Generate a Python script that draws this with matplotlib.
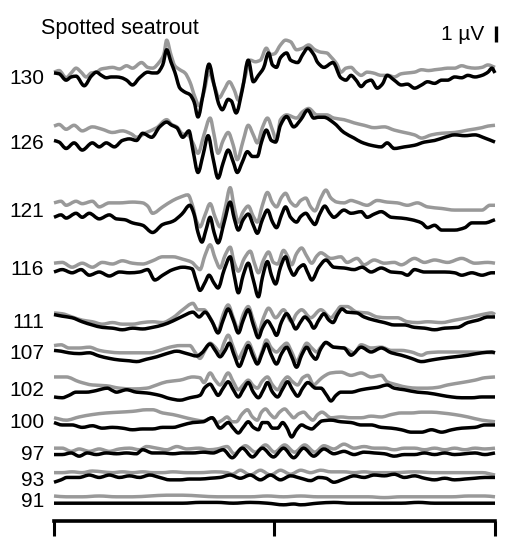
import matplotlib
matplotlib.use('Agg')
import matplotlib.pyplot as plt
from matplotlib.path import Path
from matplotlib.patches import PathPatch

plt.rcParams['font.family'] = ['Liberation Sans', 'DejaVu Sans']

# ---------------- data: (time ms, amplitude µV) ----------------
levels = ['130', '126', '121', '116', '111', '107', '102', '100', '97', '93', '91']

gray_130 = [(0,0.3),(0.23,0.4),(0.55,-0.05),(0.78,0.25),(1.0,0.55),(1.23,0.3),(1.46,0),(1.69,0.25),(1.92,0.3),(2.15,0.5),(2.37,0.55),(2.65,0.6),(2.97,0.5),(3.29,0.7),(3.56,0.55),(3.97,0.9),(4.25,0.6),(4.47,0.55),(4.79,0.95),(4.98,1.4),(5.11,2.3),(5.3,1.4),(5.48,0.7),(5.71,0.45),(5.94,0.25),(6.16,-0.3),(6.39,-1.25),(6.58,-1.8),(6.8,-0.95),(7.03,0.3),(7.26,-0.5),(7.49,-1.3),(7.72,-0.8),(7.95,-0.3),(8.17,-0.8),(8.36,-1.45),(8.63,-0.2),(8.9,1.05),(9.13,0.95),(9.36,1.05),(9.63,1.8),(9.82,1.4),(10.0,1.45),(10.27,2.0),(10.5,2.3),(10.73,2.2),(11.0,1.7),(11.28,1.8),(11.55,2.0),(11.83,1.7),(12.1,1.55),(12.37,1.5),(12.56,1.25),(12.83,0.8),(13.01,0.3),(13.24,0.55),(13.47,0.6),(13.7,0.3),(13.93,0.1),(14.2,0.3),(14.47,0.25),(14.84,0.1),(15.16,0.1),(15.43,0),(15.75,0.2),(16.03,0.25),(16.35,0.3),(16.67,0.45),(16.99,0.4),(17.26,0.45),(17.58,0.5),(17.85,0.55),(18.17,0.55),(18.49,0.7),(18.77,0.6),(19.09,0.55),(19.41,0.6),(19.68,0.75),(20,0.6)]
black_130 = [(0,0.25),(0.23,0.2),(0.55,-0.2),(0.78,0),(1.0,0.05),(1.37,-0.55),(1.69,0.05),(1.92,0.3),(2.15,0.1),(2.37,-0.05),(2.6,0),(2.83,0),(3.06,-0.05),(3.29,-0.2),(3.56,-0.5),(3.88,-0.05),(4.25,0.3),(4.47,0.25),(4.66,0.25),(4.93,0.75),(5.11,1.7),(5.3,0.95),(5.48,0.3),(5.71,-0.7),(5.94,-0.95),(6.16,-1.1),(6.35,-1.55),(6.53,-2.5),(6.76,-1.1),(7.03,0.8),(7.26,-0.5),(7.49,-1.75),(7.63,-2.05),(7.9,-1.4),(8.04,-1.5),(8.26,-2.25),(8.54,-0.8),(8.81,1.05),(9.04,-0.3),(9.27,0.1),(9.5,0.55),(9.73,1.5),(9.91,0.75),(10.09,0.6),(10.27,1.2),(10.55,1.5),(10.73,1.05),(11.05,0.9),(11.28,1.4),(11.51,1.8),(11.78,1.4),(11.96,0.9),(12.24,0.6),(12.65,0.9),(13.01,-0.05),(13.24,-0.2),(13.47,0.1),(13.7,-0.2),(13.93,-0.6),(14.16,-0.3),(14.38,-0.2),(14.66,-0.7),(14.89,-0.45),(15.11,0.1),(15.43,-0.2),(15.75,-0.5),(16.03,-0.45),(16.35,-0.7),(16.67,-0.5),(16.94,-0.3),(17.26,-0.4),(17.58,-0.2),(17.85,-0.2),(18.17,0),(18.49,-0.05),(18.77,0.1),(19.09,0),(19.41,0.1),(19.68,0.3),(19.86,0.55),(20,0.25)]

gray_126 = [(0,1.0),(0.23,1.1),(0.55,0.8),(0.91,1.05),(1.28,0.7),(1.74,0.95),(2.19,0.8),(2.65,0.6),(3.1,0.7),(3.52,0.5),(3.74,0.3),(4.2,0.6),(4.66,0.9),(5.11,1.4),(5.34,1.1),(5.57,0.95),(5.84,0.5),(6.07,0.45),(6.3,-0.05),(6.53,-0.7),(6.8,0.45),(7.08,1.5),(7.26,0.45),(7.44,-0.7),(7.67,0.1),(7.9,0.6),(8.13,-0.2),(8.31,-1.1),(8.58,0.1),(8.81,1.05),(9.04,0.45),(9.22,-0.05),(9.45,0.9),(9.68,1.5),(9.91,0.75),(10.09,0.1),(10.27,1.4),(10.55,1.7),(11.0,1.5),(11.28,1.9),(11.55,2.1),(11.92,1.7),(12.37,1.7),(12.69,1.5),(13.15,1.4),(13.61,1.2),(14.06,1.05),(14.52,0.9),(14.98,0.95),(15.43,0.75),(15.89,0.6),(16.35,0.45),(16.67,0.25),(17.12,0.45),(17.58,0.55),(18.17,0.6),(18.77,0.75),(19.41,0.9),(19.68,1.0),(20,1.05)]
black_126 = [(0,0.1),(0.23,0),(0.55,-0.4),(0.91,-0.05),(1.28,-0.5),(1.74,-0.05),(2.05,-0.3),(2.37,-0.05),(2.74,-0.3),(3.1,0.1),(3.42,0.2),(3.74,0.1),(4.02,0.55),(4.43,0.3),(4.79,0.95),(5.11,1.25),(5.34,1.05),(5.57,0.9),(5.84,0.3),(6.12,0.7),(6.3,-0.5),(6.53,-1.9),(6.76,-0.8),(6.99,0.4),(7.21,-1.0),(7.44,-2.25),(7.67,-1.3),(7.9,-0.5),(8.13,-1.25),(8.31,-1.9),(8.54,-1.25),(8.77,-0.6),(9.0,-0.9),(9.22,-0.9),(9.41,0),(9.63,0.75),(9.86,0.1),(10.05,0),(10.27,1.05),(10.55,1.6),(10.87,0.95),(11.19,1.4),(11.51,2.0),(11.78,1.5),(12.0,1.55),(12.24,1.55),(12.69,1.2),(13.15,0.6),(13.61,0.25),(13.93,0),(14.38,-0.2),(14.84,-0.3),(15.11,-0.05),(15.43,-0.4),(15.89,-0.3),(16.35,-0.2),(16.8,0),(17.26,0.1),(17.72,0.3),(18.17,0.45),(18.63,0.4),(19.09,0.45),(19.54,0.25),(20,0)]

gray_121 = [(0,0.45),(0.32,0.55),(0.55,0.3),(1.0,0.55),(1.28,0.4),(1.74,0.55),(2.05,0.2),(2.51,0.45),(2.97,0.45),(3.56,0.5),(4.02,0.45),(4.25,0.25),(4.47,-0.2),(4.93,0.2),(5.39,0.6),(5.71,0.8),(6.07,0.95),(6.3,0.2),(6.44,-0.6),(6.62,-1.05),(6.85,-0.3),(7.08,0.4),(7.31,-0.45),(7.53,-1.05),(7.76,0.1),(7.99,1.4),(8.17,0.2),(8.36,-0.75),(8.58,-0.1),(8.81,0.25),(9.04,-0.4),(9.22,-0.75),(9.45,0.3),(9.68,1.1),(9.91,0.45),(10.09,0.2),(10.32,0.8),(10.5,1.05),(10.73,0.5),(10.96,0.25),(11.19,0.6),(11.42,0.75),(11.64,0.2),(11.83,-0.05),(12.1,0.75),(12.33,1.25),(12.56,0.75),(12.83,0.5),(13.15,0.45),(13.47,0.6),(13.74,0.5),(14.2,0.3),(14.66,0.6),(15.11,0.5),(15.57,0.45),(16.03,0.3),(16.48,0.45),(16.94,0.2),(17.58,0.1),(18.17,0),(18.77,0),(19.41,0),(19.77,0.3),(20,0.3)]
black_121 = [(0,-0.45),(0.32,-0.3),(0.55,-0.5),(1.0,-0.2),(1.28,-0.45),(1.6,-0.2),(2.05,-0.55),(2.51,-0.3),(2.83,-0.55),(3.2,-0.6),(3.56,-0.8),(4.02,-0.95),(4.47,-1.4),(4.93,-0.9),(5.39,-0.7),(5.8,-0.25),(6.16,0.3),(6.35,-0.25),(6.53,-1.4),(6.71,-2.0),(6.89,-1.25),(7.08,-0.45),(7.26,-1.4),(7.44,-2.05),(7.72,-0.75),(7.99,0.5),(8.17,-0.5),(8.36,-1.25),(8.58,-0.6),(8.81,-0.25),(9.04,-0.95),(9.22,-1.45),(9.45,-0.6),(9.68,0),(9.91,-0.75),(10.09,-1.1),(10.32,-0.3),(10.5,0.2),(10.73,-0.45),(11.0,-0.75),(11.19,-0.4),(11.42,-0.2),(11.64,-0.6),(11.83,-0.9),(12.05,-0.25),(12.28,0.25),(12.51,-0.2),(12.69,-0.45),(13.15,0),(13.47,-0.2),(13.93,-0.1),(14.2,-0.45),(14.52,-0.25),(14.84,-0.1),(15.3,-0.45),(15.75,-0.5),(16.21,-0.6),(16.67,-0.8),(16.94,-1.1),(17.26,-0.95),(17.58,-1.25),(18.17,-1.25),(18.63,-1.1),(18.95,-0.8),(19.54,-0.8),(20,-0.6)]

gray_116 = [(0,0.3),(0.37,0.35),(0.82,0.05),(1.28,0.3),(1.74,0.05),(2.19,0.35),(2.65,0.25),(3.1,0.45),(3.56,0.3),(4.02,0.25),(4.47,0.45),(4.93,0.7),(5.39,0.7),(5.84,0.55),(6.26,0.35),(6.44,0.1),(6.62,-0.1),(6.85,0.8),(7.08,1.45),(7.31,0.6),(7.53,0),(7.76,0.8),(7.99,1.3),(8.17,0.35),(8.36,-0.2),(8.63,0.6),(8.9,1.05),(9.09,0.3),(9.27,-0.3),(9.5,0.5),(9.73,1.0),(9.95,0.35),(10.14,0.25),(10.41,1.1),(10.59,0.75),(10.78,0.2),(11.0,0.9),(11.23,1.25),(11.46,0.75),(11.69,0.3),(11.92,0.75),(12.1,0.95),(12.56,0.6),(13.01,0.7),(13.29,0.35),(13.74,0.6),(14.06,0.2),(14.52,0.5),(14.98,0.3),(15.43,0.35),(15.75,0.2),(16.35,0.6),(16.8,0.35),(17.26,0.5),(17.85,0.35),(18.49,0.6),(19.09,0.3),(19.68,0.35),(20,0.3)]
black_116 = [(0,-0.25),(0.37,-0.1),(0.82,-0.3),(1.23,-0.1),(1.6,-0.45),(2.05,-0.25),(2.51,-0.5),(2.97,-0.25),(3.42,-0.3),(3.88,-0.25),(4.25,-0.1),(4.57,-0.75),(4.93,-0.45),(5.39,-0.1),(5.84,0.05),(6.26,-0.05),(6.44,-0.75),(6.62,-1.4),(6.85,-0.9),(7.03,-0.45),(7.26,-0.95),(7.44,-1.25),(7.72,-0.1),(7.99,0.7),(8.17,-0.45),(8.36,-1.55),(8.58,-0.45),(8.81,0.3),(9.04,-0.75),(9.27,-1.8),(9.45,-0.6),(9.68,0.4),(9.86,-0.45),(10.05,-1.0),(10.27,0.05),(10.5,0.7),(10.68,0),(10.87,-0.45),(11.1,0),(11.32,0.2),(11.51,-0.3),(11.69,-0.75),(12.01,0.05),(12.33,0.5),(12.69,0.05),(13.15,0),(13.61,-0.1),(13.97,0.05),(14.38,-0.25),(14.84,0),(15.3,-0.25),(15.75,-0.3),(16.03,-0.45),(16.35,-0.1),(16.8,-0.25),(17.26,-0.25),(17.72,-0.25),(18.17,-0.3),(18.49,-0.45),(18.95,-0.3),(19.41,-0.45),(19.86,-0.3),(20,-0.3)]

gray_111 = [(0,0.5),(0.37,0.45),(0.82,0.25),(1.28,0.05),(1.74,-0.05),(2.19,-0.2),(2.65,-0.1),(3.1,-0.2),(3.56,-0.2),(4.02,-0.1),(4.47,-0.05),(4.93,-0.1),(5.39,0.2),(5.84,0.7),(6.3,1.1),(6.53,0.7),(6.8,0.7),(7.08,0.2),(7.44,-0.6),(7.67,0.4),(7.9,1.0),(8.13,0.2),(8.36,-0.55),(8.58,0.4),(8.81,0.9),(9.04,0.05),(9.27,-0.7),(9.5,0.2),(9.73,0.8),(10.05,0.2),(10.41,0.7),(10.78,-0.05),(11.0,0.45),(11.23,0.7),(11.64,0.2),(12.1,0.7),(12.56,0.2),(12.79,0.55),(13.01,0.9),(13.29,0.9),(13.74,0.55),(14.2,0.5),(14.66,0.25),(15.11,0.2),(15.57,0.2),(16.03,-0.05),(16.48,-0.1),(16.94,-0.05),(17.58,-0.1),(18.17,0.05),(18.77,0.2),(19.41,0.4),(19.86,0.5),(20,0.4)]
black_111 = [(0,0.4),(0.37,0.3),(0.82,0.2),(1.28,-0.05),(1.74,-0.25),(2.19,-0.4),(2.65,-0.45),(3.1,-0.55),(3.56,-0.45),(4.02,-0.5),(4.47,-0.4),(4.93,-0.25),(5.39,0),(5.84,0.3),(6.3,0.55),(6.58,0.25),(6.85,0.55),(7.17,-0.05),(7.44,-0.75),(7.67,0.05),(7.9,0.75),(8.13,0.05),(8.36,-0.75),(8.58,0.05),(8.81,0.7),(9.04,-0.25),(9.27,-1.05),(9.45,-0.45),(9.68,0),(9.91,-0.45),(10.09,-0.9),(10.32,-0.05),(10.55,0.45),(10.78,-0.05),(10.96,-0.5),(11.19,-0.05),(11.37,0.25),(11.6,-0.05),(11.78,-0.45),(12.01,0.05),(12.24,0.45),(12.47,0.05),(12.65,-0.1),(12.88,0.45),(13.06,0.75),(13.29,0.55),(13.74,0.5),(14.06,0.25),(14.52,0.05),(14.98,-0.1),(15.43,-0.25),(15.89,-0.25),(16.35,-0.4),(16.8,-0.45),(17.26,-0.55),(17.72,-0.45),(18.31,-0.4),(18.77,-0.1),(19.22,0.05),(19.68,0.25),(20,0.25)]

gray_107 = [(0,0.4),(0.32,0.45),(0.68,0.25),(1.14,0.25),(1.6,0.3),(2.05,0.1),(2.51,0),(2.97,-0.05),(3.42,-0.05),(3.88,-0.05),(4.34,-0.05),(4.79,0.1),(5.25,0.3),(5.71,0.4),(6.16,0.4),(6.39,0),(6.62,-0.4),(6.85,0.1),(7.08,0.55),(7.31,0.3),(7.53,-0.05),(7.72,0.6),(7.9,1.05),(8.13,0.3),(8.36,-0.4),(8.58,0.1),(8.81,0.6),(9.04,-0.05),(9.22,-0.6),(9.45,0.1),(9.63,0.75),(9.86,0.25),(10.09,0),(10.32,0.3),(10.55,0.55),(10.78,0),(11.0,-0.6),(11.23,0),(11.46,0.55),(11.69,0.25),(11.92,0),(12.1,0.3),(12.33,0.55),(12.69,0.3),(13.15,0.25),(13.61,-0.05),(13.93,0.45),(14.38,0.25),(14.84,0.3),(15.3,0.1),(15.75,0.1),(16.21,0),(16.67,-0.2),(16.94,-0.05),(17.58,0),(18.77,0),(20,-0.05)]
black_107 = [(0,0.1),(0.32,0.05),(0.68,-0.05),(1.14,-0.1),(1.6,-0.05),(2.05,-0.25),(2.51,-0.4),(2.97,-0.5),(3.42,-0.55),(3.74,-0.6),(4.2,-0.45),(4.66,-0.3),(5.11,-0.1),(5.57,0.05),(6.03,-0.1),(6.48,-0.25),(6.71,-0.05),(7.08,0.5),(7.31,0.1),(7.53,-0.3),(7.76,0.1),(7.95,0.55),(8.17,-0.2),(8.4,-0.9),(8.63,-0.2),(8.81,0.4),(9.04,-0.3),(9.22,-0.75),(9.45,-0.05),(9.63,0.5),(9.86,-0.2),(10.09,-0.75),(10.32,-0.1),(10.55,0.3),(10.78,-0.3),(11.0,-0.95),(11.23,-0.2),(11.46,0.3),(11.69,-0.2),(11.87,-0.45),(12.1,0.2),(12.33,0.6),(12.69,0.3),(13.15,0.25),(13.47,-0.2),(13.93,0.3),(14.38,0),(14.84,0.25),(15.3,-0.05),(15.75,-0.2),(16.21,-0.4),(16.67,-0.6),(17.12,-0.5),(17.58,-0.4),(18.17,-0.3),(18.77,-0.2),(19.41,-0.05),(19.86,0),(20,-0.05)]

gray_102 = [(0,0.75),(0.55,0.75),(1.14,0.45),(1.74,0.25),(2.37,0.2),(2.97,0.05),(3.56,0),(4.2,0.05),(4.66,0.25),(5.11,0.45),(5.71,0.55),(6.3,0.75),(6.62,0.7),(6.8,0.4),(7.08,1.0),(7.31,0.55),(7.53,0.25),(7.9,1.0),(8.13,0.45),(8.36,-0.05),(8.58,0.25),(8.81,0.55),(9.04,0.2),(9.22,0.05),(9.45,0.5),(9.68,0.75),(9.91,0.25),(10.14,-0.05),(10.37,0.45),(10.59,0.75),(10.82,0.45),(11.05,0.25),(11.28,0.7),(11.51,0.85),(11.78,0.25),(11.96,0.45),(12.15,0.7),(12.56,1.0),(13.01,1.05),(13.47,0.85),(13.93,1.0),(14.38,0.75),(14.84,0.85),(15.11,0.45),(15.57,0.25),(16.03,0.1),(16.48,0.05),(16.94,0.05),(17.4,0.1),(17.85,0.25),(18.49,0.4),(19.09,0.55),(19.54,0.7),(20,0.75)]
black_102 = [(0,-0.5),(0.37,-0.55),(0.68,-0.4),(1.0,-0.2),(1.46,-0.2),(1.92,-0.1),(2.19,0),(2.42,0.05),(2.65,-0.1),(2.83,-0.2),(3.29,-0.05),(3.74,-0.2),(4.2,-0.25),(4.79,-0.4),(5.25,-0.6),(5.71,-0.7),(6.16,-0.55),(6.62,-0.4),(6.85,0.1),(7.08,0.3),(7.26,-0.05),(7.44,-0.4),(7.67,0.05),(7.9,0.45),(8.13,-0.05),(8.36,-0.5),(8.58,-0.05),(8.81,0.4),(9.04,-0.2),(9.27,-0.55),(9.5,-0.05),(9.68,0.4),(9.91,-0.2),(10.14,-0.5),(10.37,0),(10.59,0.45),(10.82,-0.05),(11.05,-0.45),(11.28,0.05),(11.51,0.4),(11.87,0.05),(12.1,0.05),(12.37,-0.4),(12.56,-0.75),(12.79,-0.4),(13.01,-0.2),(13.47,-0.2),(13.93,-0.05),(14.38,0.05),(14.66,0.1),(15.11,0.25),(15.43,0.05),(15.89,-0.05),(16.48,-0.2),(16.94,-0.25),(17.58,-0.4),(18.04,-0.5),(18.49,-0.55),(18.95,-0.55),(19.41,-0.5),(20,-0.5)]

gray_100 = [(0,0.2),(0.55,0.05),(1.14,0.25),(1.74,0.4),(2.37,0.5),(2.97,0.55),(3.56,0.6),(4.2,0.7),(4.47,0.7),(4.93,0.5),(5.39,0.4),(5.84,0.25),(6.3,0.1),(6.76,0),(7.17,0.2),(7.4,-0.1),(7.63,0.05),(7.85,0.25),(8.08,-0.05),(8.26,-0.05),(8.54,0.45),(8.77,0.7),(9.0,0.25),(9.22,0.05),(9.41,0.55),(9.59,0.75),(9.82,0.4),(10.0,0.2),(10.23,0.55),(10.46,0.75),(10.68,0.45),(10.87,0.2),(11.1,0.45),(11.32,0.55),(11.55,0.25),(11.74,0.05),(11.96,0.4),(12.15,0.55),(12.56,0.2),(13.01,0.25),(13.47,0.2),(13.93,0.2),(14.38,0.3),(14.84,0.25),(15.3,0.4),(15.75,0.5),(16.21,0.5),(16.67,0.55),(17.12,0.55),(17.58,0.5),(18.17,0.4),(18.77,0.25),(19.41,0.05),(20,-0.05)]
black_100 = [(0,-0.1),(0.37,-0.25),(0.82,-0.25),(1.28,-0.4),(1.74,-0.3),(2.19,-0.45),(2.65,-0.4),(3.1,-0.45),(3.56,-0.55),(4.02,-0.5),(4.47,-0.5),(4.93,-0.4),(5.39,-0.4),(5.84,-0.25),(6.3,-0.1),(6.76,-0.05),(7.17,0.2),(7.53,-0.45),(7.9,-0.1),(8.13,-0.45),(8.36,-0.75),(8.58,-0.4),(8.81,-0.05),(9.04,-0.4),(9.27,-0.55),(9.45,-0.1),(9.68,-0.1),(9.91,-0.45),(10.14,-0.45),(10.37,-0.1),(10.55,-0.4),(10.78,-1.0),(11.0,-0.55),(11.23,-0.25),(11.46,-0.4),(11.69,-0.5),(11.92,-0.25),(12.15,0),(12.56,0.05),(13.01,-0.05),(13.47,-0.1),(13.93,-0.25),(14.38,-0.25),(14.84,-0.4),(15.3,-0.45),(15.75,-0.55),(16.21,-0.7),(16.67,-0.7),(17.12,-0.55),(17.58,-0.7),(18.04,-0.55),(18.49,-0.45),(19.09,-0.4),(19.54,-0.25),(20,-0.25)]

gray_97 = [(0,0.3),(0.37,0.3),(0.78,0.1),(1.14,0.25),(1.6,0.1),(2.05,0.25),(2.51,0.1),(2.97,0.25),(3.42,0.3),(3.88,0.2),(4.2,0.4),(4.66,0.3),(5.11,0.2),(5.57,0.4),(6.03,0.25),(6.58,0.3),(7.03,0.2),(7.4,0.25),(7.85,0.4),(8.17,-0.05),(8.68,0.45),(9.13,0.05),(9.59,0.5),(10.0,0.05),(10.46,0.5),(10.91,0.05),(11.37,0.5),(11.83,0.05),(12.24,0.45),(12.69,0.25),(13.15,0.55),(13.61,0.3),(14.06,0.4),(14.52,0.3),(14.98,0.3),(15.43,0.2),(15.89,0.3),(16.35,0.3),(16.8,0.2),(17.26,0.3),(17.72,0.2),(18.17,0.3),(18.63,0.2),(19.09,0.3),(19.54,0.25),(20,0.3)]
black_97 = [(0,-0.1),(0.37,-0.1),(0.78,0),(1.14,-0.2),(1.51,0),(1.92,-0.1),(2.37,0),(2.83,-0.05),(3.29,0),(3.74,-0.05),(4.02,0.2),(4.47,0),(4.93,0),(5.39,-0.05),(5.84,0),(6.3,0),(6.76,0.05),(7.21,0),(7.67,0.2),(8.08,-0.3),(8.54,0.3),(9.0,-0.25),(9.45,0.3),(9.95,-0.25),(10.41,0.3),(10.87,-0.3),(11.32,0.3),(11.78,-0.2),(12.24,0.25),(12.69,-0.05),(13.15,0.1),(13.61,-0.1),(14.06,0.05),(14.52,0),(14.98,-0.05),(15.43,-0.2),(15.89,-0.1),(16.35,-0.1),(16.8,0),(17.26,-0.1),(17.72,0),(18.17,-0.1),(18.63,-0.05),(19.09,0),(19.54,-0.1),(20,0)]

gray_93 = [(0,0.4),(0.37,0.4),(0.82,0.45),(1.28,0.4),(1.74,0.5),(2.19,0.45),(2.65,0.4),(3.1,0.45),(3.56,0.4),(4.02,0.45),(4.47,0.4),(4.93,0.4),(5.39,0.45),(6.03,0.4),(6.62,0.4),(7.31,0.45),(7.85,0.4),(8.08,0.3),(8.45,0.55),(8.9,0.25),(9.36,0.55),(9.82,0.25),(10.27,0.55),(10.73,0.3),(11.19,0.55),(11.64,0.4),(12.1,0.55),(12.56,0.45),(13.15,0.45),(13.61,0.4),(14.06,0.45),(14.52,0.4),(15.43,0.4),(16.35,0.45),(17.26,0.4),(18.17,0.4),(19.41,0.4),(20,0.25)]
black_93 = [(0,-0.2),(0.32,-0.05),(0.59,0.1),(1.14,0.1),(1.6,0.25),(2.05,0.1),(2.51,0.25),(2.97,0.1),(3.42,0.2),(3.88,0.1),(4.34,0.25),(4.79,0.1),(5.25,-0.05),(5.71,-0.05),(6.16,0),(6.62,0),(7.08,0.05),(7.53,0.1),(7.99,0.25),(8.45,0.05),(8.9,0.25),(9.36,-0.05),(9.82,0.25),(10.27,-0.05),(10.73,0.2),(11.19,0.05),(11.64,-0.1),(12.01,0.1),(12.33,0.05),(12.69,-0.2),(13.15,0),(13.61,0.2),(14.06,0.1),(14.52,0.25),(14.98,0.2),(15.43,0.3),(15.89,0.1),(16.35,0.2),(16.8,0.05),(17.26,-0.05),(17.72,0.05),(18.17,-0.05),(18.63,0),(19.09,0.05),(19.54,0.1),(20,0.1)]

gray_91 = [(0,0.25),(0.55,0.2),(1.28,0.2),(2.05,0.25),(2.83,0.2),(3.56,0.2),(4.34,0.25),(5.11,0.3),(5.84,0.3),(6.62,0.25),(7.4,0.2),(8.13,0.2),(8.9,0.2),(9.68,0.25),(10.41,0.2),(11.19,0.25),(11.96,0.2),(12.69,0.2),(13.47,0.2),(14.25,0.2),(14.98,0.15),(15.75,0.2),(16.53,0.2),(17.26,0.2),(18.04,0.2),(18.81,0.25),(19.54,0.25),(20,0.2)]
black_91 = [(0,-0.2),(0.55,-0.2),(1.28,-0.2),(2.05,-0.2),(2.83,-0.2),(3.56,-0.2),(4.34,-0.2),(5.11,-0.2),(5.84,-0.2),(6.62,-0.15),(7.4,-0.15),(8.13,-0.2),(8.9,-0.15),(9.68,-0.2),(10.41,-0.3),(10.87,-0.25),(11.19,-0.3),(11.96,-0.2),(12.69,-0.15),(13.47,-0.2),(14.25,-0.2),(14.98,-0.2),(15.75,-0.2),(16.53,-0.15),(17.26,-0.2),(18.04,-0.2),(18.81,-0.2),(20,-0.2)]

gray_traces = [gray_130, gray_126, gray_121, gray_116, gray_111, gray_107,
               gray_102, gray_100, gray_97, gray_93, gray_91]
black_traces = [black_130, black_126, black_121, black_116, black_111, black_107,
                black_102, black_100, black_97, black_93, black_91]

# ---------------- layout ----------------
W, H = 506, 539
PX_PER_UV = 16.0
# vertical stacking position of each level (µV below the top edge)
offsets = [-4.81, -8.88, -13.13, -16.75, -20.06, -22.0, -24.31, -26.31, -28.31, -29.94, -31.25]


def smooth_path(pts, off):
    """Smooth (shape-preserving cubic) rendering through the read points."""
    xs = [p[0] for p in pts]
    ys = [p[1] + off for p in pts]
    n = len(xs)
    h = [xs[i + 1] - xs[i] for i in range(n - 1)]
    d = [(ys[i + 1] - ys[i]) / h[i] for i in range(n - 1)]
    m = [0.0] * n
    m[0], m[-1] = d[0], d[-1]
    for i in range(1, n - 1):
        if d[i - 1] * d[i] <= 0:
            m[i] = 0.0
        else:
            w1 = 2 * h[i] + h[i - 1]
            w2 = h[i] + 2 * h[i - 1]
            m[i] = (w1 + w2) / (w1 / d[i - 1] + w2 / d[i])
    verts = [(xs[0], ys[0])]
    codes = [Path.MOVETO]
    for i in range(n - 1):
        verts += [(xs[i] + h[i] / 3, ys[i] + m[i] * h[i] / 3),
                  (xs[i + 1] - h[i] / 3, ys[i + 1] - m[i + 1] * h[i] / 3),
                  (xs[i + 1], ys[i + 1])]
        codes += [Path.CURVE4] * 3
    return Path(verts, codes)


fig = plt.figure(figsize=(W / 100, H / 100), dpi=100)
ax = fig.add_axes([54 / W, 0, 441 / W, 1])
ax.set_xlim(0, 20)
ax.set_ylim(-H / PX_PER_UV, 0)
ax.axis('off')

GRAY = '#999999'
LW = 2.5
for lab, off, g, b in zip(levels, offsets, gray_traces, black_traces):
    for pts, col in ((g, GRAY), (b, 'black')):
        patch = PathPatch(smooth_path(pts, off), fill=False, edgecolor=col, lw=LW,
                          joinstyle='round', capstyle='butt', clip_on=False)
        ax.add_patch(patch)
    ax.text(-0.45, off - 7 / PX_PER_UV, lab, ha='right', va='baseline', fontsize=15,
            clip_on=False)

# title
ax.text(-0.6, -34 / PX_PER_UV, 'Spotted seatrout', ha='left', va='baseline',
        fontsize=15.5, clip_on=False)

# 1 µV scale bar
bar_top = -26 / PX_PER_UV
ax.plot([20.05, 20.05], [bar_top, bar_top - 1.0], color='black', lw=2.4,
        solid_capstyle='butt', clip_on=False)
ax.text(19.5, -40 / PX_PER_UV, '1 µV', ha='right', va='baseline', fontsize=15,
        clip_on=False)

# time axis at bottom
axb = fig.add_axes([54 / W, (H - 521) / H, 441 / W, 0.0001])
axb.set_xlim(0, 20)
axb.set_xticks([0, 10, 20])
axb.set_xticklabels([])
axb.set_yticks([])
for s in ['top', 'left', 'right']:
    axb.spines[s].set_visible(False)
axb.spines['bottom'].set_linewidth(2.6)
axb.spines['bottom'].set_capstyle('projecting')
axb.tick_params(axis='x', direction='out', length=10.5, width=2.2, color='black')
axb.patch.set_visible(False)

fig.savefig('out.png', dpi=100)
